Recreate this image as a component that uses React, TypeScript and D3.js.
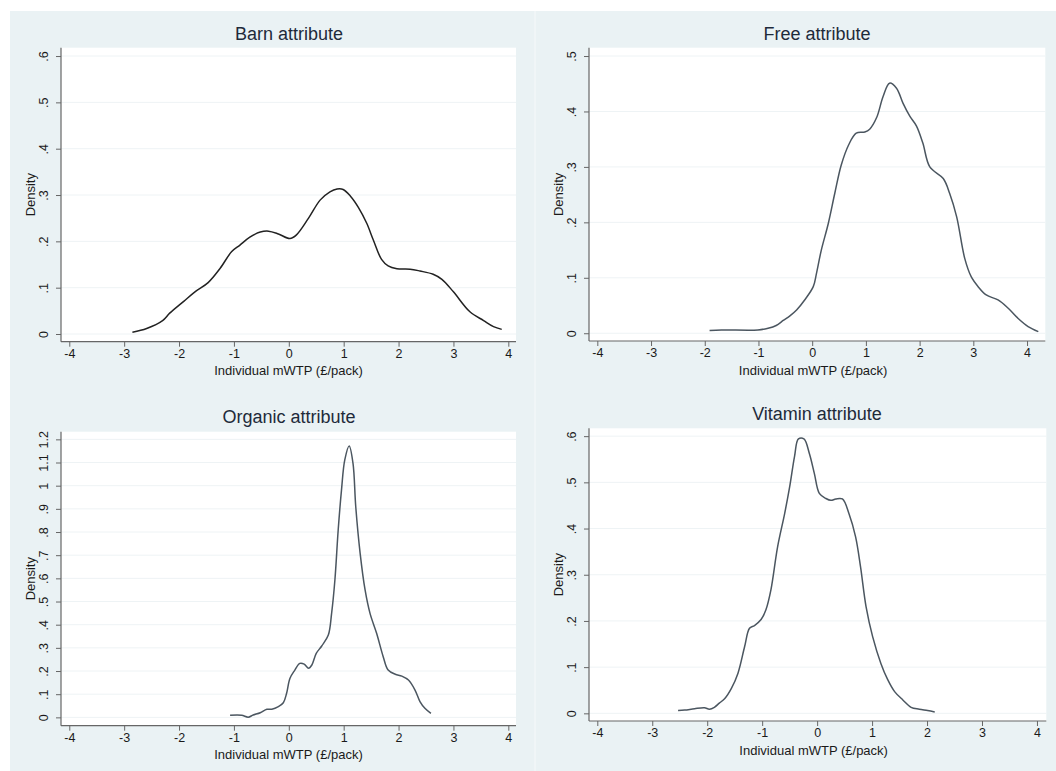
import React, { useEffect, useRef } from 'react';
import * as d3 from 'd3';

// x ticks shared by every panel
const xTicks = [-4, -3, -2, -1, 0, 1, 2, 3, 4];

const barnX = [-2.85, -2.59, -2.3, -2.17, -1.92, -1.71, -1.47, -1.25, -1.04, -0.89, -0.71, -0.52, -0.37, -0.19, 0.02, 0.14, 0.36, 0.57, 0.75, 0.88, 0.99, 1.12, 1.27, 1.42, 1.54, 1.69, 1.81, 1.97, 2.21, 2.39, 2.63, 2.79, 3.0, 3.3, 3.55, 3.73, 3.88];
const barnY = [0.004, 0.012, 0.029, 0.045, 0.07, 0.091, 0.111, 0.142, 0.178, 0.192, 0.209, 0.22, 0.222, 0.216, 0.206, 0.214, 0.25, 0.289, 0.307, 0.313, 0.312, 0.298, 0.273, 0.239, 0.203, 0.161, 0.147, 0.141, 0.14, 0.136, 0.129, 0.118, 0.091, 0.048, 0.029, 0.016, 0.01];

const freeX = [-1.91, -1.69, -1.01, -0.82, -0.67, -0.54, -0.42, -0.29, -0.14, 0.02, 0.08, 0.17, 0.3, 0.42, 0.54, 0.68, 0.82, 0.98, 1.07, 1.2, 1.32, 1.44, 1.57, 1.69, 1.82, 1.94, 2.06, 2.19, 2.44, 2.56, 2.69, 2.84, 2.96, 3.09, 3.24, 3.46, 3.65, 3.83, 4.02, 4.21];
const freeY = [0.005, 0.006, 0.006, 0.009, 0.014, 0.023, 0.031, 0.042, 0.06, 0.084, 0.108, 0.15, 0.198, 0.252, 0.303, 0.34, 0.361, 0.363, 0.368, 0.389, 0.427, 0.451, 0.442, 0.415, 0.391, 0.374, 0.343, 0.3, 0.279, 0.252, 0.21, 0.135, 0.102, 0.084, 0.069, 0.06, 0.045, 0.027, 0.012, 0.003];

const organicX = [-1.07, -0.86, -0.74, -0.65, -0.52, -0.4, -0.31, -0.19, -0.1, -0.04, 0.02, 0.11, 0.2, 0.28, 0.36, 0.42, 0.5, 0.6, 0.72, 0.78, 0.84, 0.9, 0.96, 1.02, 1.1, 1.17, 1.22, 1.3, 1.39, 1.48, 1.6, 1.72, 1.81, 1.94, 2.06, 2.18, 2.3, 2.39, 2.48, 2.59];
const organicY = [0.009, 0.009, 0.001, 0.01, 0.02, 0.035, 0.035, 0.046, 0.063, 0.104, 0.168, 0.204, 0.233, 0.23, 0.212, 0.226, 0.276, 0.308, 0.355, 0.449, 0.593, 0.809, 0.981, 1.111, 1.171, 1.096, 0.909, 0.708, 0.55, 0.449, 0.363, 0.262, 0.204, 0.186, 0.178, 0.161, 0.118, 0.068, 0.039, 0.017];

const vitaminX = [-2.53, -2.41, -2.23, -2.05, -1.96, -1.87, -1.78, -1.68, -1.56, -1.44, -1.32, -1.23, -1.14, -1.02, -0.93, -0.84, -0.72, -0.59, -0.5, -0.41, -0.34, -0.24, -0.14, -0.05, 0.04, 0.16, 0.25, 0.34, 0.46, 0.58, 0.7, 0.79, 0.89, 1.01, 1.16, 1.28, 1.41, 1.56, 1.71, 1.86, 2.01, 2.14];
const vitaminY = [0.006, 0.007, 0.01, 0.012, 0.009, 0.013, 0.022, 0.032, 0.054, 0.087, 0.144, 0.184, 0.19, 0.203, 0.225, 0.268, 0.36, 0.433, 0.49, 0.557, 0.594, 0.594, 0.562, 0.519, 0.476, 0.465, 0.461, 0.464, 0.464, 0.432, 0.382, 0.317, 0.231, 0.166, 0.108, 0.074, 0.047, 0.029, 0.013, 0.009, 0.006, 0.003];

const yTicksSmall = [0, 0.1, 0.2, 0.3, 0.4, 0.5, 0.6];
const yTicksFree = [0, 0.1, 0.2, 0.3, 0.4, 0.5];
const yTicksOrganic = [0, 0.1, 0.2, 0.3, 0.4, 0.5, 0.6, 0.7, 0.8, 0.9, 1, 1.1, 1.2];

const titles = ['Barn attribute', 'Free attribute', 'Organic attribute', 'Vitamin attribute'];

// stata style labels: .1 instead of 0.1, plain hyphen for minus
const fmt = (v: number) => {
  const s = String(+v.toFixed(2));
  return s.startsWith('0.') ? s.slice(1) : s;
};

const FONT = '"Liberation Sans", Arial, sans-serif';

const App = () => {
  const svgRef = useRef<SVGSVGElement>(null);

  useEffect(() => {
    const W = 1056, H = 771;
    const svg = d3.select(svgRef.current).attr('width', W).attr('height', H);
    svg.selectAll('*').remove();

    svg.append('rect').attr('x', 10).attr('y', 11).attr('width', W - 10).attr('height', H - 11)
      .attr('fill', '#eaf2f4');
    svg.append('line').attr('x1', 535).attr('x2', 535).attr('y1', 11).attr('y2', H)
      .attr('stroke', '#f6f9fa').attr('stroke-width', 1);

    const panels = [
      { title: titles[0], xs: barnX, ys: barnY, yTicks: yTicksSmall, left: 61, right: 516, top: 47.7, bottom: 341.7,
        xDom: [-4.151, 4.14], yDom: [-0.0166, 0.618], color: '#222222', titleY: 40, titleX: 289 },
      { title: titles[1], xs: freeX, ys: freeY, yTicks: yTicksFree, left: 589, right: 1045.3, top: 47.7, bottom: 341,
        xDom: [-4.155, 4.34], yDom: [-0.014, 0.515], color: '#4b5660', titleY: 40, titleX: 817 },
      { title: titles[2], xs: organicX, ys: organicY, yTicks: yTicksOrganic, left: 61, right: 516, top: 431.7, bottom: 725.7,
        xDom: [-4.151, 4.14], yDom: [-0.036, 1.233], color: '#4b5660', titleY: 422.5, titleX: 289 },
      { title: titles[3], xs: vitaminX, ys: vitaminY, yTicks: yTicksSmall, left: 589, right: 1046.3, top: 428.3, bottom: 721,
        xDom: [-4.151, 4.17], yDom: [-0.0166, 0.617], color: '#4b5660', titleY: 419.5, titleX: 817 },
    ];

    panels.forEach(p => {
      const x = d3.scaleLinear().domain(p.xDom).range([p.left, p.right]);
      const y = d3.scaleLinear().domain(p.yDom).range([p.bottom, p.top]);
      const g = svg.append('g');

      g.append('rect')
        .attr('x', p.left).attr('y', p.top)
        .attr('width', p.right - p.left).attr('height', p.bottom - p.top)
        .attr('fill', '#ffffff');

      g.selectAll('.grid')
        .data(p.yTicks)
        .enter()
        .append('line')
        .attr('x1', p.left).attr('x2', p.right)
        .attr('y1', d => y(d)).attr('y2', d => y(d))
        .attr('stroke', '#eef3f5')
        .attr('stroke-width', 1);

      const xAxis = g.append('g')
        .attr('transform', `translate(0,${p.bottom})`)
        .call(d3.axisBottom(x).tickValues(xTicks).tickSize(5).tickSizeOuter(0).tickPadding(2).tickFormat(d => fmt(+d)));
      xAxis.select('.domain').attr('stroke', '#666').attr('stroke-width', 1.2)
        .attr('d', `M${p.left},0H${p.right}`);
      xAxis.selectAll('line').attr('stroke', '#666');
      xAxis.selectAll('text').style('font-family', FONT).style('font-size', '12.5px').attr('fill', '#1a1a1a');

      const yAxis = g.append('g')
        .attr('transform', `translate(${p.left},0)`)
        .call(d3.axisLeft(y).tickValues(p.yTicks).tickSize(5).tickSizeOuter(0).tickFormat(d => fmt(+d)));
      yAxis.select('.domain').attr('stroke', '#666').attr('stroke-width', 1.2)
        .attr('d', `M0,${p.top}V${p.bottom}`);
      yAxis.selectAll('line').attr('stroke', '#666');
      yAxis.selectAll('text')
        .style('font-family', FONT).style('font-size', '12.5px').attr('fill', '#1a1a1a')
        .attr('x', 0).attr('dy', 0)
        .attr('text-anchor', 'middle')
        .attr('transform', 'translate(-13.5,0) rotate(-90)');

      const pts = p.xs.map((v, i) => [v, p.ys[i]] as [number, number]);
      const line = d3.line<[number, number]>()
        .x(d => x(d[0]))
        .y(d => y(d[1]))
        .curve(d3.curveCatmullRom.alpha(0.5));

      g.append('path')
        .datum(pts)
        .attr('d', line)
        .attr('fill', 'none')
        .attr('stroke', p.color)
        .attr('stroke-width', 1.5)
        .attr('stroke-linejoin', 'round');

      g.append('text')
        .attr('x', p.titleX)
        .attr('y', p.titleY)
        .attr('text-anchor', 'middle')
        .style('font-family', FONT)
        .style('font-size', '18px')
        .attr('fill', '#1e2a3a')
        .text(p.title);

      g.append('text')
        .attr('x', (p.left + p.right) / 2 + (p.left === 61 ? 0 : -4))
        .attr('y', p.bottom + 33.5)
        .attr('text-anchor', 'middle')
        .style('font-family', FONT)
        .style('font-size', '13px')
        .attr('fill', '#1a1a1a')
        .text('Individual mWTP (£/pack)');

      g.append('text')
        .attr('transform', `translate(${p.left - 26.5},${(p.top + p.bottom) / 2}) rotate(-90)`)
        .attr('text-anchor', 'middle')
        .style('font-family', FONT)
        .style('font-size', '13px')
        .attr('fill', '#1a1a1a')
        .text('Density');
    });
  }, []);

  return (
    <div style={{ position: 'absolute', left: 0, top: 0 }}>
      <svg ref={svgRef} style={{ display: 'block' }}></svg>
    </div>
  );
};

export default App;
